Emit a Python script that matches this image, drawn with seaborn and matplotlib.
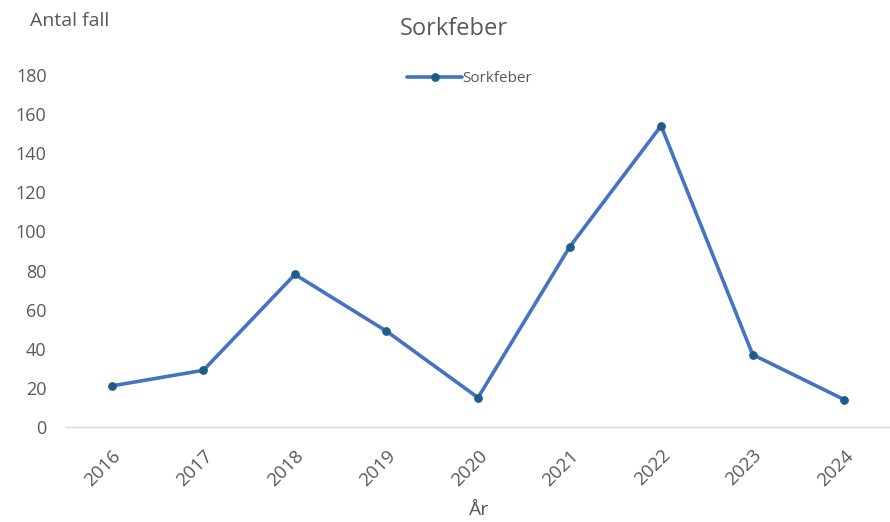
import matplotlib
matplotlib.use("Agg")
import matplotlib.pyplot as plt
import seaborn as sns
import pandas as pd

years = [2016, 2017, 2018, 2019, 2020, 2021, 2022, 2023, 2024]
cases = [21, 29, 78, 49, 15, 92, 154, 37, 14]
series_name = "Sorkfeber"
title = "Sorkfeber"
ylabel = "Antal fall"
xlabel = "År"
yticks = [0, 20, 40, 60, 80, 100, 120, 140, 160, 180]

df = pd.DataFrame({"År": years, "Antal": cases})

sns.set_style("white")
plt.rcParams["font.family"] = ["Open Sans", "DejaVu Sans"]

fig = plt.figure(figsize=(8.9, 5.22), dpi=100)
ax = fig.add_axes([0.0742, 0.182, 0.9258, 0.6745])

sns.lineplot(data=df, x="År", y="Antal", ax=ax, color="#4472C4", linewidth=2.6,
             marker="o", markersize=5.5, markerfacecolor="#1F5C8A",
             markeredgecolor="#1F5C8A", label=series_name)

ax.set_xlim(years[0] - 0.5, years[-1] + 0.5)
ax.set_ylim(0, 180)
ax.set_xticks(years)
ax.set_xticklabels([str(y) for y in years], rotation=45, ha="right",
                   rotation_mode="anchor", fontsize=13.5, color="#595959")
ax.set_yticks(yticks)
ax.set_yticklabels([str(v) for v in yticks], fontsize=13, color="#595959")
ax.tick_params(axis="both", length=0)
ax.tick_params(axis="x", pad=14)
ax.tick_params(axis="y", pad=14)

for s in ["top", "right", "left"]:
    ax.spines[s].set_visible(False)
ax.spines["bottom"].set_color("#D9D9D9")
ax.spines["bottom"].set_linewidth(1.0)
ax.grid(False)

ax.set_xlabel(xlabel, fontsize=14, color="#595959", labelpad=8)
ax.set_ylabel("")
fig.text(0.034, 0.960, ylabel, fontsize=14, color="#595959", ha="left", va="center")
fig.text(0.51, 0.944, title, fontsize=17, color="#595959", ha="center", va="center")

leg = ax.legend(loc="upper center", bbox_to_anchor=(0.49, 1.05), frameon=False,
                fontsize=11, handlelength=3.6, handletextpad=0.0)
for t in leg.get_texts():
    t.set_color("#595959")

fig.savefig("out.png", dpi=100)
